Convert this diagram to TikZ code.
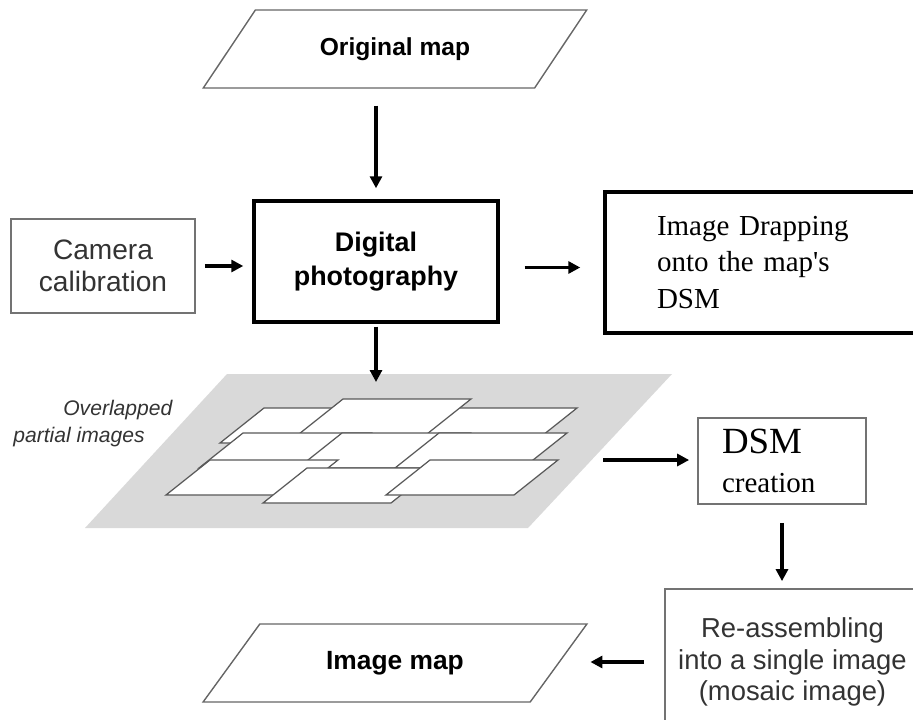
\documentclass[tikz,border=0pt]{standalone}
\usepackage{fontspec}
\setmainfont{Liberation Serif}
\setsansfont{Liberation Sans}
\usetikzlibrary{arrows.meta,shapes.geometric}

\begin{document}
\begin{tikzpicture}[x=0.02cm,y=-0.02cm,
    flow/.style={line width=2.2pt,-{Triangle[length=0.24cm,width=0.24cm]}},
    mapshape/.style={trapezium,trapezium left angle=39.4,trapezium right angle=140.6,
      trapezium stretches=true,minimum width=7.68cm,minimum height=1.56cm,inner sep=0pt,
      draw=black!60,line width=0.8pt},
    thinbox/.style={draw=black!55,line width=1pt,text=black!80,inner sep=0pt},
    thickbox/.style={draw=black,line width=2pt,inner sep=0pt},
    sheet/.style={draw=black!65,fill=white,line width=0.7pt}]
  \useasboundingbox (0,0) rectangle (913,720);
  \clip (0,0) rectangle (913,720);

  % input and output maps
  \node [mapshape,font=\sffamily\bfseries\fontsize{14}{16}\selectfont] (orig) at (395,49) {Original map};
  \node [mapshape,font=\sffamily\bfseries\fontsize{15}{17}\selectfont] (imap) at (395,663) {Image map};

  % boxes
  \node [thickbox,minimum width=4.88cm,minimum height=2.42cm,align=center,
    font=\sffamily\bfseries\fontsize{15.3}{19.3}\selectfont] (dig) at (376,261.5) {Digital\\photography};
  \node [thinbox,minimum width=3.68cm,minimum height=1.88cm,align=center,
    font=\sffamily\fontsize{16}{18}\selectfont] (cam) at (103,266) {Camera\\calibration};
  \node [thickbox,text width=4.42cm,inner xsep=1.04cm,minimum height=2.82cm,align=left,
    font=\fontsize{16.5}{21}\selectfont] (drap) at (767.5,262.5) {Image Drapping\\onto the map\textquotesingle s\\DSM};
  \node [thinbox,text=black,text width=2.4cm,inner xsep=0.48cm,minimum height=1.72cm,align=left,
    font=\fontsize{16.5}{22}\selectfont] (dsm) at (782,461) {{\fontsize{21}{22}\selectfont DSM}\\creation};
  \node [thinbox,minimum width=5.1cm,minimum height=2.92cm,align=center,
    font=\sffamily\fontsize{15.6}{17.9}\selectfont] (re) at (792.5,662) {Re-assembling\\into a single image\\(mosaic image)};

  % overlapped partial images
  \fill [black!15] (227,374) -- (672,374) -- (528,528) -- (85,528) -- cycle;
  \foreach \x/\y in {264/408,449/408,343/399,243/433,342/433,439/433,210/460,307/468,430/460}
    \draw [sheet] (\x,\y) -- ++(128,0) -- ++(-44,35) -- ++(-128,0) -- cycle;
  \node [anchor=west,inner sep=0pt,align=left,text=black!80,
    font=\sffamily\itshape\fontsize{12}{15}\selectfont] (label) at (13,423.5) {\hspace*{1cm}Overlapped\\partial images};
  \coordinate (stackin) at (376,382);
  \coordinate (stackout) at (603,460);

  % arrows
  \draw [flow,shorten <=0.34cm,shorten >=0.22cm] (orig.south -| dig.north) -- (dig.north);
  \draw [flow,shorten <=0.18cm,shorten >=0.18cm] (cam.east) -- (cam.east -| dig.west);
  \draw [flow,shorten <=0.5cm,shorten >=0.46cm] ([yshift=-0.12cm]dig.east) -- ([yshift=-0.12cm]dig.east -| drap.west);
  \draw [flow,shorten <=0.06cm] (dig.south) -- (stackin);
  \draw [flow,shorten >=0.16cm] (stackout) -- (stackout -| dsm.west);
  \draw [flow,shorten <=0.36cm,shorten >=0.14cm] (dsm.south) -- (dsm.south |- re.north);
  \draw [flow,shorten <=0.4cm,shorten >=0.62cm] (re.west) -- (re.west -| imap.east);
\end{tikzpicture}
\end{document}
